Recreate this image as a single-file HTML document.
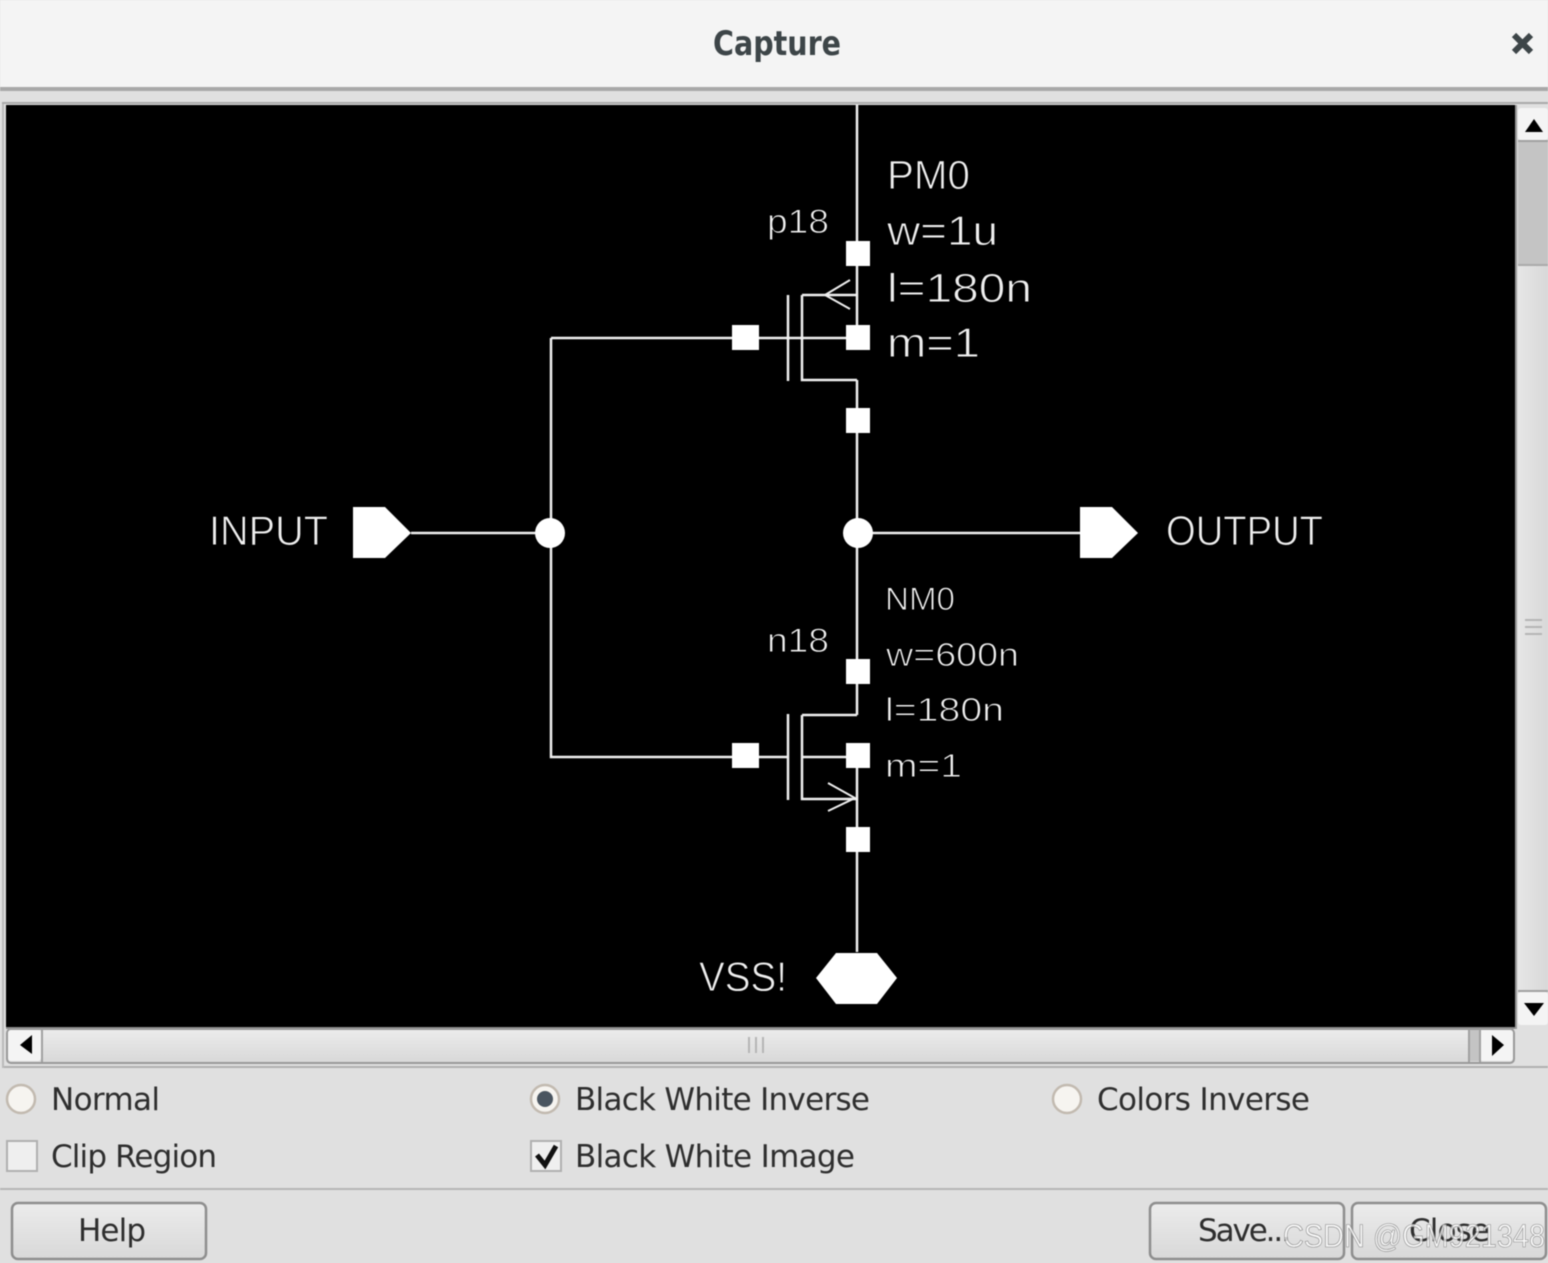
<!DOCTYPE html>
<html><head><meta charset="utf-8"><style>
html,body{margin:0;padding:0;background:#e0e0e0;width:1548px;height:1263px;overflow:hidden}
svg{display:block;position:absolute;left:0;top:0;filter:blur(.55px)}
.s{font-family:"Liberation Sans",sans-serif;fill:#efefef;stroke:#000;stroke-width:.9;paint-order:normal}
.u{font-family:"DejaVu Sans",sans-serif;fill:#2e2e2e;font-size:31px}
.w{stroke:#f0f0f0;stroke-width:2.5;fill:none}
.a{stroke:#eee;stroke-width:2;fill:none}
</style></head><body>
<svg width="1548" height="1263" viewBox="0 0 1548 1263" xmlns="http://www.w3.org/2000/svg">
<defs>
<linearGradient id="b" x1="0" y1="0" x2="0" y2="1"><stop offset="0" stop-color="#ececec"/><stop offset="1" stop-color="#d8d8d8"/></linearGradient>
<linearGradient id="h" x1="0" y1="0" x2="1" y2="0"><stop offset="0" stop-color="#e6e6e6"/><stop offset="1" stop-color="#d8d8d8"/></linearGradient>
</defs>
<rect width="1548" height="1263" fill="#e0e0e0"/>
<!-- title bar -->
<rect width="1548" height="87" fill="#f4f4f4"/>
<rect y="87" width="1548" height="4" fill="#a8a8a8"/>
<rect y="102" x="2" width="1546" height="2" fill="#aaa"/>
<text x="777" y="55" text-anchor="middle" textLength="128" lengthAdjust="spacingAndGlyphs" style="font-family:'DejaVu Sans',sans-serif;font-weight:bold;font-size:34px;fill:#3d4548">Capture</text>
<path d="M1514 35L1531 52M1531 35L1514 52" stroke="#3d4548" stroke-width="6"/>
<!-- canvas -->
<rect x="6" y="105" width="1509" height="922" fill="#000"/>
<rect x="6" y="1027" width="1510" height="2" fill="#888"/>
<rect x="1515" y="105" width="2" height="924" fill="#999"/>
<!-- vertical scrollbar -->
<rect x="1518" y="141" width="30" height="125" fill="#c4c4c4"/>
<rect x="1518" y="266" width="30" height="724" fill="url(#h)"/>
<rect x="1518" y="264" width="30" height="2" fill="#aaa"/>
<rect x="1518" y="108" width="30" height="32" rx="3" fill="#f4f4f4"/>
<rect x="1518" y="140" width="30" height="2" fill="#a0a0a0"/>
<path d="M1525 132L1534 119L1543 132Z" fill="#000"/>
<rect x="1518" y="990" width="30" height="2" fill="#a0a0a0"/>
<rect x="1518" y="992" width="30" height="33" rx="3" fill="#f4f4f4"/>
<path d="M1524 1003H1544L1534 1016Z" fill="#000"/>
<path d="M1525 620H1542M1525 627H1542M1525 634H1542" stroke="#b5b5b5" stroke-width="2"/>
<!-- horizontal scrollbar -->
<rect x="7" y="1029" width="1507" height="34" rx="4" fill="url(#b)" stroke="#999" stroke-width="2"/>
<rect x="8" y="1030" width="33" height="31" rx="3" fill="#f4f4f4"/>
<rect x="41" y="1029" width="2" height="33" fill="#a0a0a0"/>
<path d="M32 1035V1054L20 1045Z" fill="#000"/>
<rect x="1469" y="1030" width="10" height="31" fill="#c4c4c4"/>
<rect x="1468" y="1029" width="2" height="33" fill="#a0a0a0"/>
<rect x="1480" y="1030" width="33" height="31" rx="3" fill="#f4f4f4"/>
<rect x="1479" y="1029" width="2" height="33" fill="#a0a0a0"/>
<path d="M1492 1035V1056L1504 1045Z" fill="#000"/>
<path d="M749 1037V1053M756 1037V1053M763 1037V1053" stroke="#b5b5b5" stroke-width="2"/>
<rect x="2" y="1066" width="1546" height="2" fill="#b0b0b0"/>
<rect x="2" y="104" width="2" height="964" fill="#bbb"/>
<!-- wires -->
<path class="w" d="M857 105V349M857 380V715M857 757V952M802 295H857M551 338H857M788 295V381M802 295V380H857M551 338V757H788M788 714V800M802 715V799H857M802 715H857M802 757H857M411 533H551M858 533H1080"/>
<path class="a" d="M850 280L825 295L850 309M828 783L855 798L828 811"/>
<g fill="#fff">
<rect x="846" y="241" width="24" height="25"/>
<rect x="846" y="325" width="24" height="25"/>
<rect x="846" y="408" width="24" height="25"/>
<rect x="732" y="325" width="27" height="25"/>
<rect x="846" y="659" width="24" height="25"/>
<rect x="846" y="743" width="24" height="25"/>
<rect x="846" y="827" width="24" height="25"/>
<rect x="732" y="743" width="27" height="25"/>
<circle cx="550" cy="533" r="15"/>
<circle cx="858" cy="533" r="15"/>
<polygon points="353,507 385,507 411,533 385,558 353,558"/>
<polygon points="1080,507 1112,507 1138,533 1112,558 1080,558"/>
<polygon points="816,978 836,953 877,953 897,978 877,1004 836,1004"/>
</g>
<!-- schematic labels -->
<g class="s">
<text x="887" y="189" font-size="41" textLength="83" lengthAdjust="spacingAndGlyphs">PM0</text>
<text x="887" y="245" font-size="42" textLength="111" lengthAdjust="spacingAndGlyphs">w=1u</text>
<text x="887" y="302" font-size="41" textLength="145" lengthAdjust="spacingAndGlyphs">l=180n</text>
<text x="887" y="357" font-size="42" textLength="93" lengthAdjust="spacingAndGlyphs">m=1</text>
<text x="767" y="233" font-size="34" textLength="62" lengthAdjust="spacingAndGlyphs">p18</text>
<text x="885" y="610" font-size="32" textLength="70" lengthAdjust="spacingAndGlyphs">NM0</text>
<text x="886" y="666" font-size="33" textLength="133" lengthAdjust="spacingAndGlyphs">w=600n</text>
<text x="885" y="721" font-size="33" textLength="119" lengthAdjust="spacingAndGlyphs">l=180n</text>
<text x="885" y="777" font-size="33" textLength="77" lengthAdjust="spacingAndGlyphs">m=1</text>
<text x="767" y="652" font-size="34" textLength="62" lengthAdjust="spacingAndGlyphs">n18</text>
<text x="209" y="545" font-size="42" textLength="119" lengthAdjust="spacingAndGlyphs">INPUT</text>
<text x="1166" y="545" font-size="42" textLength="157" lengthAdjust="spacingAndGlyphs">OUTPUT</text>
<text x="699" y="991" font-size="42" textLength="88" lengthAdjust="spacingAndGlyphs">VSS!</text>
</g>
<!-- options -->
<g fill="#f6f4f0" stroke="#c2bab0" stroke-width="2.5">
<circle cx="21" cy="1099" r="14"/>
<circle cx="545" cy="1099" r="14"/>
<circle cx="1067" cy="1099" r="14"/>
</g>
<circle cx="545" cy="1099" r="8" fill="#4a5560"/>
<rect x="7" y="1141" width="30" height="30" fill="#efefef" stroke="#b0b0b0" stroke-width="2"/>
<rect x="531" y="1141" width="30" height="30" fill="#efefef" stroke="#b0b0b0" stroke-width="2"/>
<path d="M537 1155L545 1165L556 1146" fill="none" stroke="#111" stroke-width="5"/>
<g class="u">
<text x="51" y="1110" textLength="109" lengthAdjust="spacing">Normal</text>
<text x="575" y="1110" textLength="295" lengthAdjust="spacing">Black White Inverse</text>
<text x="1097" y="1110" textLength="213" lengthAdjust="spacing">Colors Inverse</text>
<text x="51" y="1167" textLength="166" lengthAdjust="spacing">Clip Region</text>
<text x="575" y="1167" textLength="280" lengthAdjust="spacing">Black White Image</text>
</g>
<rect x="0" y="1188" width="1548" height="2" fill="#b5b5b5"/>
<!-- buttons -->
<g fill="url(#b)" stroke="#8e8e8e" stroke-width="2.5">
<rect x="12" y="1203" width="194" height="56" rx="6"/>
<rect x="1150" y="1203" width="194" height="56" rx="6"/>
<rect x="1352" y="1203" width="194" height="56" rx="6"/>
</g>
<g class="u">
<text x="78" y="1241" textLength="68" lengthAdjust="spacing">Help</text>
<text x="1198" y="1241" textLength="93" lengthAdjust="spacing">Save...</text>
<text x="1409" y="1241" textLength="81" lengthAdjust="spacing">Close</text>
</g>
<text x="1283" y="1247" textLength="262" lengthAdjust="spacingAndGlyphs" style="font-family:'Liberation Sans',sans-serif;font-size:32px;fill:#fff;fill-opacity:.75;stroke:#888;stroke-width:.6">CSDN @GM921348</text>
</svg>
</body></html>
